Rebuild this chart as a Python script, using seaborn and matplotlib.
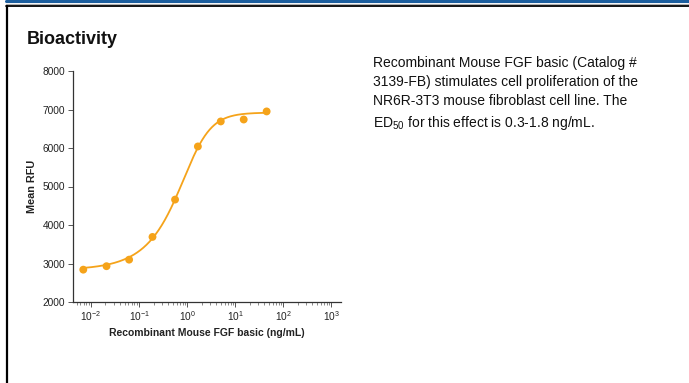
import numpy as np
import pandas as pd
import matplotlib
matplotlib.use("Agg")
import matplotlib.pyplot as plt
from matplotlib.lines import Line2D
import seaborn as sns

# dose-response readings (ng/mL vs mean RFU)
dose = [0.0069, 0.021, 0.062, 0.19, 0.56, 1.67, 5.0, 15.0, 45.0]
mean_rfu = [2840, 2930, 3100, 3690, 4660, 6040, 6690, 6740, 6950]

# 5-parameter logistic fit shown as the curve
fit_bottom = 2830
fit_top = 6920
fit_c = 1.29
fit_hill = 1.65
fit_asym = 0.5

orange = "#f5a31a"
font = "Liberation Sans"

sns.set_style("ticks")
plt.rcParams["font.family"] = [font, "DejaVu Sans"]
plt.rcParams["mathtext.fontset"] = "custom"
plt.rcParams["mathtext.rm"] = font
plt.rcParams["mathtext.default"] = "regular"

fig = plt.figure(figsize=(6.89, 3.83), dpi=100)

# page frame: blue band, grey rule, black rule, left border
fig.add_artist(Line2D([6 / 689, 1], [1 - 1 / 383] * 2, color="#1c5e9e", lw=2.2))
fig.add_artist(Line2D([6 / 689, 1], [1 - 3.5 / 383] * 2, color="#b0b0b0", lw=0.8))
fig.add_artist(Line2D([6 / 689, 1], [1 - 6 / 383] * 2, color="black", lw=1.3))
fig.add_artist(Line2D([7 / 689] * 2, [0, 1 - 6 / 383], color="black", lw=1.6))

fig.text(27 / 689, 1 - 44 / 383, "Bioactivity", fontsize=13, fontweight="bold",
         color="#111111")

fig.text(373 / 689, 1 - 56 / 383,
         "Recombinant Mouse FGF basic (Catalog #\n"
         "3139-FB) stimulates cell proliferation of the\n"
         "NR6R-3T3 mouse fibroblast cell line. The\n"
         "ED$\\mathregular{_{50}}$ for this effect is 0.3-1.8 ng/mL.",
         fontsize=10, va="top", linespacing=1.45, color="#111111")

ax = fig.add_axes([73 / 689, 1 - 302 / 383, (341 - 73) / 689, (302 - 71) / 383])

df = pd.DataFrame({"dose": dose, "rfu": mean_rfu})
xs = np.geomspace(dose[0], dose[-1], 300)
curve = pd.DataFrame({
    "dose": xs,
    "rfu": fit_bottom + (fit_top - fit_bottom)
    / (1 + (fit_c / xs) ** fit_hill) ** fit_asym,
})

sns.lineplot(data=curve, x="dose", y="rfu", ax=ax, color=orange, lw=1.3)
sns.scatterplot(data=df, x="dose", y="rfu", ax=ax, color=orange, s=32,
                edgecolor="none", zorder=3)

ax.set_xscale("log")
ax.set_xlim(10 ** -2.375, 10 ** 3.2)
ax.set_ylim(2000, 8000)
ax.set_yticks(range(2000, 8001, 1000))
ax.xaxis.set_minor_locator(matplotlib.ticker.LogLocator(base=10, subs=np.arange(2, 10)))

sns.despine(ax=ax)
for s in ["left", "bottom"]:
    ax.spines[s].set_color("#333333")
    ax.spines[s].set_linewidth(0.9)
ax.tick_params(axis="both", which="major", length=3.5, width=0.7, color="#555555",
               labelsize=7.3, labelcolor="#222222", pad=2)
ax.tick_params(axis="x", which="minor", length=2, width=0.6, color="#777777")

ax.set_xlabel("Recombinant Mouse FGF basic (ng/mL)", fontsize=7.5,
              fontweight="bold", color="#222222", labelpad=3)
ax.set_ylabel("Mean RFU", fontsize=7.8, fontweight="bold",
              color="#222222", labelpad=4)

fig.savefig("out.png", dpi=100)
